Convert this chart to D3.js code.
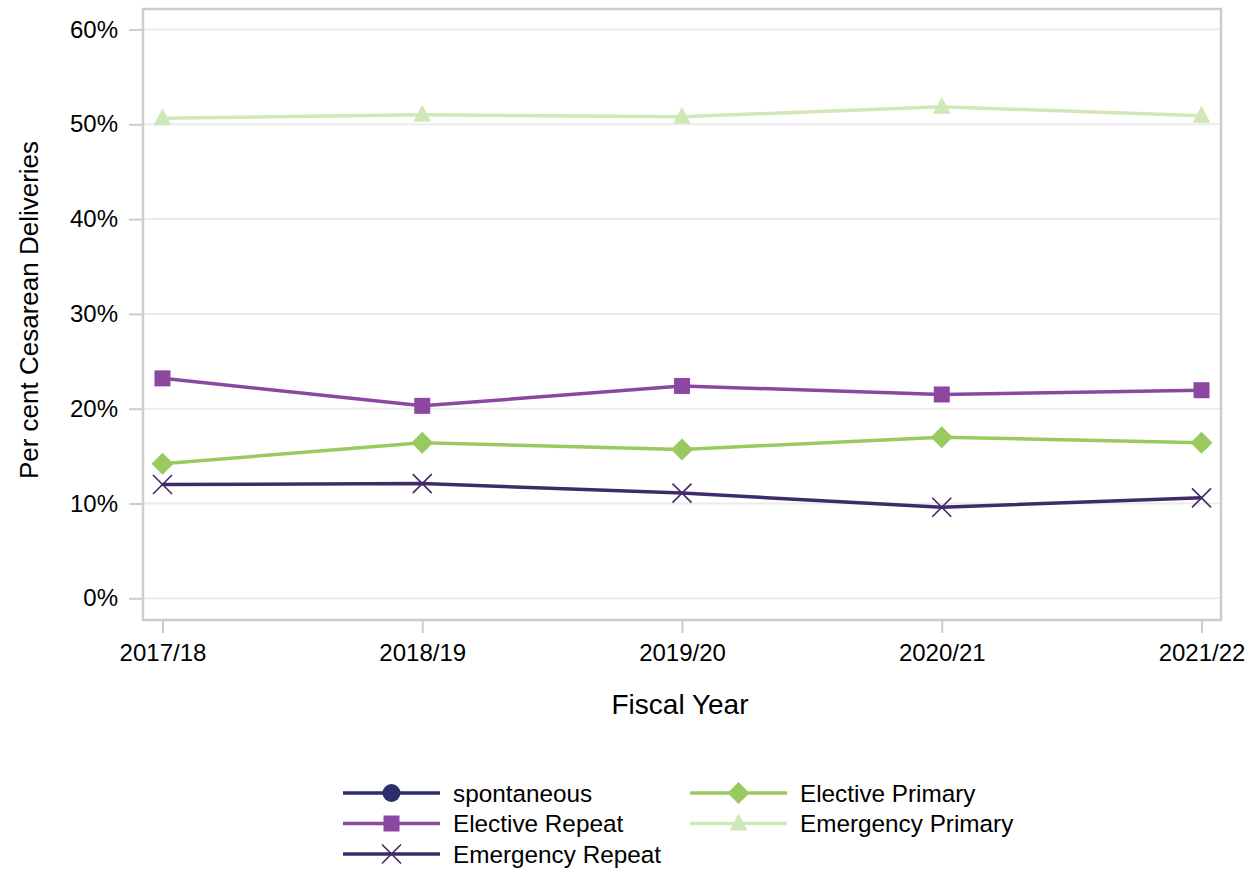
<!DOCTYPE html>
<html>
<head>
<meta charset="utf-8">
<script src="https://cdn.jsdelivr.net/npm/d3@7"></script>
<style>
  html, body { margin: 0; padding: 0; background: #fff; }
  svg text { font-family: "Liberation Sans", Arial, Helvetica, sans-serif; fill: #000; }
</style>
</head>
<body>
<svg id="chart" width="1251" height="871"></svg>
<script>
// ---- data ----
const years = ["2017/18", "2018/19", "2019/20", "2020/21", "2021/22"];
const yTicks = [0, 10, 20, 30, 40, 50, 60];
const spontaneous = [null, null, null, null, null];
const electiveRepeat = [23.2, 20.3, 22.4, 21.5, 21.95];
const emergencyRepeat = [12.0, 12.1, 11.1, 9.6, 10.6];
const electivePrimary = [14.2, 16.4, 15.7, 17.0, 16.4];
const emergencyPrimary = [50.65, 51.0, 50.8, 51.85, 50.9];

const seriesNames = ["spontaneous", "Elective Repeat", "Emergency Repeat", "Elective Primary", "Emergency Primary"];
const seriesColors = ["#2c2d6c", "#8c47a0", "#402b6a", "#98ca5f", "#d0e8b8"];
const seriesMarkers = ["circle", "square", "cross", "diamond", "triangle"];
const seriesValues = [spontaneous, electiveRepeat, emergencyRepeat, electivePrimary, emergencyPrimary];

const series = seriesNames.map((n, i) => ({
  name: n, color: seriesColors[i], marker: seriesMarkers[i],
  values: years.map((y, j) => ({ year: y, v: seriesValues[i][j] }))
}));

// ---- layout ----
const svg = d3.select("#chart");
const frame = { left: 143, top: 9, right: 1221, bottom: 620 };

const x = d3.scalePoint().domain(years).range([frame.left, frame.right]).padding(0.075);
const y = d3.scaleLinear().domain([0, 60]).range([598.3, 29.5]);

// gridlines
svg.append("g").selectAll("line").data(yTicks).join("line")
  .attr("x1", frame.left).attr("x2", frame.right)
  .attr("y1", d => y(d)).attr("y2", d => y(d))
  .attr("stroke", "#ebebeb").attr("stroke-width", 2);

// y axis ticks & labels
const yAxis = d3.axisLeft(y).tickValues(yTicks).tickSize(13).tickPadding(11)
  .tickFormat(d => d + "%");
const gy = svg.append("g").attr("transform", `translate(${frame.left - 1},0)`).call(yAxis);
gy.select(".domain").remove();
gy.selectAll(".tick line").attr("stroke", "#cccccc").attr("stroke-width", 2);
gy.selectAll(".tick text").attr("font-size", 24).attr("font-family", "Liberation Sans, Arial, sans-serif").attr("fill", "#000");

// x axis
const xAxis = d3.axisBottom(x).tickSize(12).tickPadding(11);
const gx = svg.append("g").attr("transform", `translate(0,${frame.bottom + 1})`).call(xAxis);
gx.select(".domain").remove();
gx.selectAll(".tick line").attr("stroke", "#cccccc").attr("stroke-width", 2);
gx.selectAll(".tick text").attr("font-size", 24).attr("font-family", "Liberation Sans, Arial, sans-serif").attr("fill", "#000");

// frame
svg.append("rect")
  .attr("x", frame.left).attr("y", frame.top)
  .attr("width", frame.right - frame.left).attr("height", frame.bottom - frame.top)
  .attr("fill", "none").attr("stroke", "#cccccc").attr("stroke-width", 2.5);

// axis titles
svg.append("text").attr("x", 680).attr("y", 714).attr("text-anchor", "middle")
  .attr("font-size", 28).text("Fiscal Year");
svg.append("text").attr("transform", "translate(38,310) rotate(-90)").attr("text-anchor", "middle")
  .attr("font-size", 26).text("Per cent Cesarean Deliveries");

// marker drawing
function drawMarker(g, type, color) {
  if (type === "circle") {
    g.append("circle").attr("r", 9).attr("fill", color);
  } else if (type === "square") {
    g.append("rect").attr("x", -8).attr("y", -8).attr("width", 16).attr("height", 16).attr("fill", color);
  } else if (type === "diamond") {
    g.append("path").attr("d", "M0,-11 L11,0 L0,11 L-11,0 Z").attr("fill", color);
  } else if (type === "triangle") {
    g.append("path").attr("d", "M0,-10 L9,7 L-9,7 Z").attr("fill", color);
  } else if (type === "cross") {
    g.append("path").attr("d", "M-9.5,-9.5 L9.5,9.5 M-9.5,9.5 L9.5,-9.5")
      .attr("stroke", color).attr("stroke-width", 1.6).attr("fill", "none");
  }
}

const line = d3.line().defined(d => d.v != null).x(d => x(d.year)).y(d => y(d.v));

const plot = svg.append("g");
series.forEach(s => {
  const g = plot.append("g");
  g.append("path").datum(s.values).attr("d", line)
    .attr("fill", "none").attr("stroke", s.color).attr("stroke-width", 3.5)
    .attr("stroke-linejoin", "round");
  s.values.filter(d => d.v != null).forEach(d => {
    const mg = g.append("g").attr("transform", `translate(${x(d.year)},${y(d.v)})`);
    drawMarker(mg, s.marker, s.color);
  });
});

// legend
const legendPos = [
  { lx: 343, row: 0 }, { lx: 343, row: 1 }, { lx: 343, row: 2 },
  { lx: 690, row: 0 }, { lx: 690, row: 1 }
];
const rowY = d3.scaleLinear().domain([0, 1]).range([793, 823.5]);
const legend = svg.append("g");
series.forEach((s, i) => {
  const p = legendPos[i];
  const g = legend.append("g").attr("transform", `translate(${p.lx},${rowY(p.row)})`);
  g.append("line").attr("x1", 0).attr("x2", 97).attr("y1", 0).attr("y2", 0)
    .attr("stroke", s.color).attr("stroke-width", 3.5);
  const mg = g.append("g").attr("transform", "translate(48.5,0)");
  drawMarker(mg, s.marker, s.color);
  g.append("text").attr("x", 110).attr("y", 0).attr("dy", "0.35em")
    .attr("font-size", 24.3).text(s.name);
});
</script>
</body>
</html>
